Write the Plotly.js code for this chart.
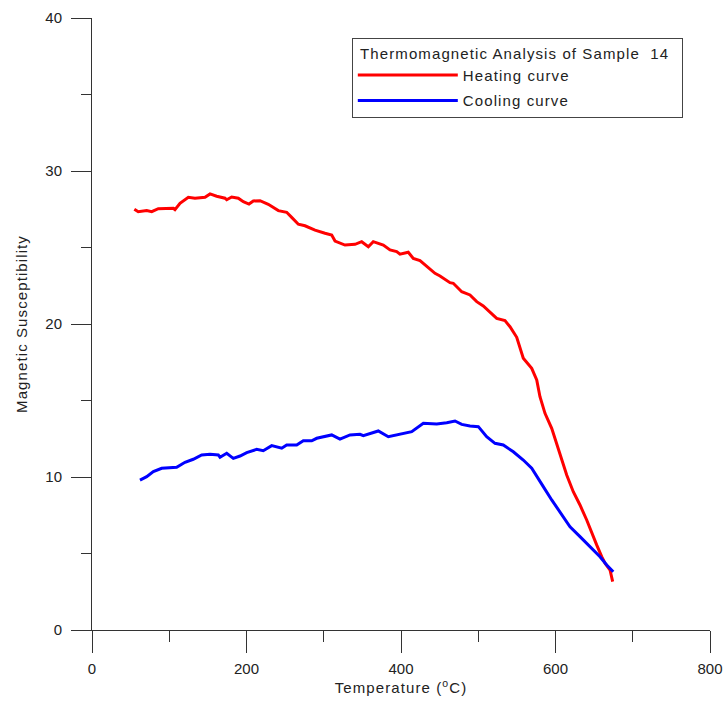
<!DOCTYPE html>
<html>
<head>
<meta charset="utf-8">
<script src="https://cdn.plot.ly/plotly-3.0.1.min.js"></script>
<style>
  html, body { margin: 0; padding: 0; background: #ffffff; }
  #chart { width: 725px; height: 704px; }
  /* titles and legend entries are set a little wider than plain Arial */
  .legendtext, .legendtitletext, .xtitle, .ytitle { letter-spacing: 1.1px; }
</style>
</head>
<body>
<div id="chart"></div>
<script>
// Heating run: temperature (°C) and susceptibility
const heatTemp = [54.8, 59.9, 70.8, 77.3, 85.8, 105.2, 107.4, 113.9, 124.7, 133.3, 146.3, 152.8, 161.4, 172.2, 174.4, 180.8, 189.4, 195.9, 203.2, 208.8, 217.5, 228.2, 241.2, 252.0, 258.5, 267.1, 275.7, 288.7, 301.6, 310.3, 314.6, 327.5, 340.5, 349.1, 357.7, 364.1, 377.1, 385.8, 394.4, 398.7, 409.4, 415.9, 424.6, 433.3, 444.0, 450.5, 463.4, 467.7, 478.6, 489.3, 498.0, 506.5, 515.2, 523.9, 534.6, 541.1, 549.8, 558.3, 569.2, 575.7, 579.9, 586.4, 595.1, 603.6, 608.0, 614.5, 623.0, 631.7, 640.4, 646.9, 653.3, 659.8, 664.1, 670.6, 674.0];
const heatSusc = [27.50, 27.34, 27.41, 27.34, 27.54, 27.56, 27.47, 27.89, 28.28, 28.22, 28.28, 28.50, 28.35, 28.22, 28.12, 28.30, 28.22, 27.99, 27.84, 28.04, 28.06, 27.82, 27.41, 27.30, 26.97, 26.52, 26.42, 26.14, 25.93, 25.82, 25.42, 25.16, 25.21, 25.38, 25.05, 25.38, 25.16, 24.84, 24.73, 24.56, 24.69, 24.29, 24.14, 23.75, 23.31, 23.14, 22.70, 22.66, 22.11, 21.90, 21.46, 21.18, 20.80, 20.37, 20.22, 19.82, 19.13, 17.76, 17.10, 16.34, 15.25, 14.16, 13.18, 11.88, 11.22, 10.13, 9.04, 8.17, 7.19, 6.32, 5.56, 4.79, 4.36, 3.92, 3.16];

// Cooling run
const coolTemp = [62.1, 70.8, 79.4, 90.2, 109.6, 120.4, 131.1, 142.0, 152.8, 163.5, 165.7, 174.4, 182.9, 191.6, 200.3, 213.2, 221.7, 232.6, 245.6, 252.0, 265.0, 273.5, 284.4, 290.9, 310.3, 321.0, 334.0, 346.9, 351.2, 359.9, 370.6, 383.6, 403.0, 413.9, 428.9, 446.2, 459.2, 469.9, 478.6, 489.3, 500.1, 510.9, 521.7, 532.4, 545.4, 558.3, 569.2, 575.7, 584.2, 595.1, 605.8, 618.8, 631.7, 644.7, 657.6, 666.3, 674.8];
const coolSusc = [9.80, 10.02, 10.35, 10.57, 10.63, 10.96, 11.16, 11.44, 11.48, 11.44, 11.29, 11.55, 11.22, 11.37, 11.59, 11.81, 11.72, 12.05, 11.88, 12.09, 12.09, 12.37, 12.37, 12.53, 12.75, 12.48, 12.75, 12.79, 12.70, 12.86, 13.01, 12.63, 12.86, 12.96, 13.51, 13.46, 13.55, 13.66, 13.44, 13.33, 13.29, 12.63, 12.20, 12.09, 11.65, 11.11, 10.57, 10.02, 9.37, 8.50, 7.73, 6.75, 6.10, 5.44, 4.79, 4.25, 3.81];

const seriesNames = ['Heating curve', 'Cooling curve'];
const legendHeading = 'Thermomagnetic Analysis of Sample  14';
const xTitle = 'Temperature (<sup>o</sup>C)';
const yTitle = 'Magnetic Susceptibility';

const FONT = 'Arial, "Liberation Sans", sans-serif';
const AXIS = '#333333';
const TEXT = '#222222';
const NBSP = '\u00a0';

const traces = [
  { x: heatTemp, y: heatSusc, name: seriesNames[0], type: 'scatter', mode: 'lines',
    line: { color: '#ff0000', width: 3 }, legendgroup: 'h' },
  { x: coolTemp, y: coolSusc, name: seriesNames[1], type: 'scatter', mode: 'lines',
    line: { color: '#0000ff', width: 3 }, legendgroup: 'c' }
];

const layout = {
  width: 725, height: 704,
  margin: { l: 92, r: 15, t: 18, b: 74 },
  paper_bgcolor: '#ffffff', plot_bgcolor: '#ffffff',
  font: { family: FONT, size: 15, color: TEXT },
  showlegend: true,
  legend: {
    x: 0.956, xanchor: 'right', y: 0.967, yanchor: 'top',
    bordercolor: '#444444', borderwidth: 1, bgcolor: '#ffffff',
    font: { family: FONT, size: 15, color: TEXT },
    // padded heading gives the box some breathing room on both sides
    title: { text: NBSP + legendHeading + NBSP + NBSP, side: 'top',
             font: { family: FONT, size: 15, color: TEXT } },
    itemwidth: 100, traceorder: 'grouped', tracegroupgap: 3
  },
  xaxis: {
    range: [0, 800], dtick: 200, tick0: 0,
    showgrid: false, zeroline: false,
    showline: true, linecolor: AXIS, linewidth: 1,
    ticks: 'outside', ticklen: 22, tickwidth: 1, tickcolor: AXIS,
    minor: { dtick: 100, ticks: 'outside', ticklen: 11, tickwidth: 1, tickcolor: AXIS, showgrid: false },
    tickfont: { family: FONT, size: 15, color: TEXT },
    ticklabelstandoff: 3,
    title: { text: xTitle, font: { family: FONT, size: 15, color: TEXT }, standoff: 5 }
  },
  yaxis: {
    range: [0, 40], dtick: 10, tick0: 0,
    showgrid: false, zeroline: false,
    showline: true, linecolor: AXIS, linewidth: 1,
    ticks: 'outside', ticklen: 20, tickwidth: 1, tickcolor: AXIS,
    minor: { dtick: 5, ticks: 'outside', ticklen: 10, tickwidth: 1, tickcolor: AXIS, showgrid: false },
    tickfont: { family: FONT, size: 15, color: TEXT },
    ticklabelstandoff: 6,
    title: { text: yTitle, font: { family: FONT, size: 15, color: TEXT }, standoff: 14 }
  }
};

Plotly.newPlot('chart', traces, layout, { displayModeBar: false, staticPlot: true });
</script>
</body>
</html>
